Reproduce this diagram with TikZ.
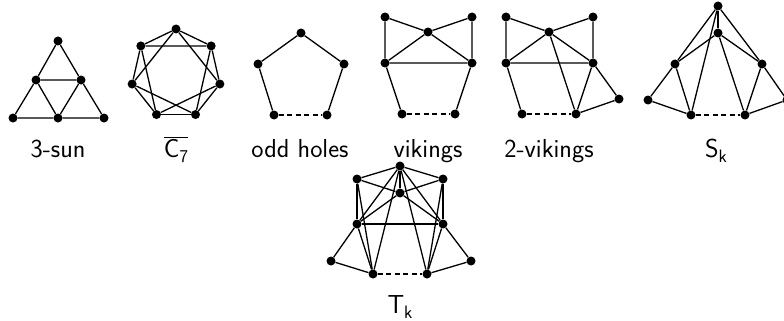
\documentclass[tikz,border=0pt]{standalone}
\begin{document}
\begin{tikzpicture}[x=1pt,y=-1pt,
  v/.style={circle,fill=black,inner sep=0pt,minimum size=9pt},
  e/.style={line width=1.3pt},
  dsh/.style={line width=1.3pt,dash pattern=on 5pt off 3.5pt},
  lab/.style={anchor=base,inner sep=0pt,font=\sffamily\fontsize{26}{30}\selectfont}]
\useasboundingbox (0,0) rectangle (784,321);
\newcommand{\subk}[1]{\raisebox{-0.22em}{\fontsize{18}{20}\selectfont #1}}
% 3-sun
\node[v] (a1) at (58,41) {};
\node[v] (a2) at (36,80) {};
\node[v] (a3) at (81,80) {};
\node[v] (a4) at (13,118) {};
\node[v] (a5) at (58,118) {};
\node[v] (a6) at (104,118) {};
\draw[e] (a1)--(a2)--(a4)--(a5)--(a6)--(a3)--(a1);
\draw[e] (a2)--(a3)--(a5)--(a2);
\node[lab] (la) at (58,157) {3-sun};
% C7 complement
\foreach \i in {0,...,6} {
  \node[v] (c\i) at ({176+45*cos(90+\i*360/7)},{74-45*sin(90+\i*360/7)}) {};
}
\foreach \i in {0,...,6} {
  \pgfmathtruncatemacro{\j}{mod(\i+1,7)}
  \pgfmathtruncatemacro{\k}{mod(\i+2,7)}
  \draw[e] (c\i)--(c\j);
  \draw[e] (c\i)--(c\k);
}
\node[lab] (lc) at (176,157) {$\overline{\hbox{\sffamily\fontsize{26}{30}\selectfont C\subk{7}}}$};
% odd holes
\node[v] (o1) at (301,33) {};
\node[v] (o2) at (258,64) {};
\node[v] (o3) at (344,64) {};
\node[v] (o4) at (274,115) {};
\node[v] (o5) at (327,115) {};
\draw[e] (o4)--(o2)--(o1)--(o3)--(o5);
\draw[dsh] (o4)--(o5);
\node[lab] (lo) at (300,157) {odd holes};
% vikings
\node[v] (w1) at (385,17) {};
\node[v] (w2) at (472,17) {};
\node[v] (w3) at (428,32) {};
\node[v] (w4) at (385,63) {};
\node[v] (w5) at (472,63) {};
\node[v] (w6) at (402,114) {};
\node[v] (w7) at (455,114) {};
\draw[e] (w6)--(w4)--(w1)--(w3)--(w2)--(w5)--(w7);
\draw[e] (w4)--(w3)--(w5)--(w4);
\draw[dsh] (w6)--(w7);
\node[lab] (lw) at (428,157) {vikings};
% 2-vikings
\node[v] (x1) at (506,17) {};
\node[v] (x2) at (593,17) {};
\node[v] (x3) at (549,32) {};
\node[v] (x4) at (506,63) {};
\node[v] (x5) at (593,63) {};
\node[v] (x6) at (522,114) {};
\node[v] (x7) at (576,114) {};
\node[v] (x8) at (619,99) {};
\draw[e] (x6)--(x4)--(x1)--(x3)--(x2)--(x5)--(x8)--(x7)--(x5);
\draw[e] (x4)--(x3)--(x5)--(x4);
\draw[e] (x3)--(x7);
\draw[dsh] (x6)--(x7);
\node[lab] (lx) at (549,157) {2-vikings};
% S_k
\node[v] (s1) at (718,6) {};
\node[v] (s2) at (718,33) {};
\node[v] (s3) at (675,64) {};
\node[v] (s4) at (762,64) {};
\node[v] (s5) at (648,100) {};
\node[v] (s6) at (691,115) {};
\node[v] (s7) at (745,115) {};
\node[v] (s8) at (787,100) {};
\draw[e] (s1)--(s2);
\draw[e] (s1)--(s3); \draw[e] (s1)--(s4); \draw[e] (s1)--(s6);
\draw[e] (s2)--(s3); \draw[e] (s2)--(s4); \draw[e] (s2)--(s7);
\draw[e] (s3)--(s5)--(s6)--(s3);
\draw[e] (s4)--(s8)--(s7)--(s4);
\draw[dsh] (s6)--(s7);
\node[lab] (ls) at (716,157) {S\subk{k}};
% T_k
\node[v] (t1) at (400,166) {};
\node[v] (t2) at (357,179) {};
\node[v] (t3) at (443,179) {};
\node[v] (t4) at (400,193) {};
\node[v] (t5) at (357,224) {};
\node[v] (t6) at (443,224) {};
\node[v] (t7) at (331,261) {};
\node[v] (t8) at (471,261) {};
\node[v] (t9) at (373,274) {};
\node[v] (t10) at (427,274) {};
\foreach \b in {t2,t3,t4,t5,t6,t9,t10} \draw[e] (t1)--(\b);
\draw[e] (t2)--(t4)--(t3);
\draw[e] (t5)--(t4)--(t6);
\draw[e] (t2)--(t5)--(t6)--(t3);
\draw[e] (t2)--(t9); \draw[e] (t3)--(t10);
\draw[e] (t5)--(t9); \draw[e] (t6)--(t10);
\draw[e] (t5)--(t7)--(t9);
\draw[e] (t6)--(t8)--(t10);
\draw[dsh] (t9)--(t10);
\node[lab] (lt) at (400,313) {T\subk{k}};
\end{tikzpicture}
\end{document}
